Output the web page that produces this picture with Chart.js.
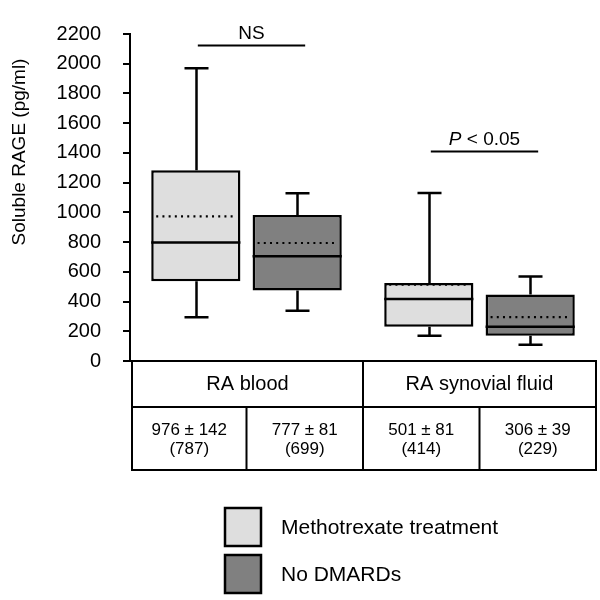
<!DOCTYPE html>
<html>
<head>
<meta charset="utf-8">
<title>Soluble RAGE</title>
<script src="https://cdn.jsdelivr.net/npm/chart.js@4.4.0/dist/chart.umd.min.js"></script>
<style>
  html, body { margin: 0; padding: 0; background: #fff; }
  #wrap { width: 600px; height: 600px; }
</style>
</head>
<body>
<div id="wrap"><canvas id="ragePlot" width="600" height="600"></canvas></div>
<script>
// groups on the x axis and the two series
const groups = ['RA blood', 'RA synovial fluid'];
const seriesNames = ['Methotrexate treatment', 'No DMARDs'];
const seriesColors = ['#dedede', '#808080'];

// box plot values (pg/ml)
const mtxMin = [295, 170];
const mtxQ1 = [537, 231];
const mtxMedian = [797, 417];
const mtxMean = [973, 513];
const mtxQ3 = [1283, 524];
const mtxMax = [1969, 1131];

const noMin = [338, 109];
const noQ1 = [474, 170];
const noMedian = [705, 231];
const noMean = [794, 295];
const noQ3 = [982, 447];
const noMax = [1128, 568];

// y axis
const yMin = 0;
const yMax = 2200;
const yStep = 200;
const yTitle = 'Soluble RAGE (pg/ml)';

// significance bars above each group
const sigLabels = ['NS', 'P < 0.05'];
const sigValues = [2128, 1410];

// table under the plot: mean ± SEM and (median)
const statMeans = ['976 ± 142', '777 ± 81', '501 ± 81', '306 ± 39'];
const statMedians = ['(787)', '(699)', '(414)', '(229)'];

const boxStats = [
    { min: mtxMin, q1: mtxQ1, median: mtxMedian, mean: mtxMean, q3: mtxQ3, max: mtxMax },
    { min: noMin, q1: noQ1, median: noMedian, mean: noMean, q3: noQ3, max: noMax }
];

const FONT = '"Liberation Sans", Arial, Helvetica, sans-serif';

// whiskers, medians, dotted means, significance bars, table and legend
const boxPlotExtras = {
    id: 'boxPlotExtras',
    afterDatasetsDraw(chart) {
        const ctx = chart.ctx;
        const y = chart.scales.y;
        const x = chart.scales.x;
        const area = chart.chartArea;

        ctx.save();
        ctx.strokeStyle = '#000';

        boxStats.forEach((st, di) => {
            const meta = chart.getDatasetMeta(di);
            meta.data.forEach((bar, i) => {
                const cx = Math.round(bar.x) + 0.5;
                const half = bar.width / 2;
                const capHalf = 12;

                ctx.lineWidth = 2.5;
                ctx.setLineDash([]);
                // upper whisker
                ctx.beginPath();
                ctx.moveTo(cx, y.getPixelForValue(st.q3[i]));
                ctx.lineTo(cx, y.getPixelForValue(st.max[i]));
                ctx.moveTo(cx - capHalf, y.getPixelForValue(st.max[i]));
                ctx.lineTo(cx + capHalf, y.getPixelForValue(st.max[i]));
                // lower whisker
                ctx.moveTo(cx, y.getPixelForValue(st.q1[i]));
                ctx.lineTo(cx, y.getPixelForValue(st.min[i]));
                ctx.moveTo(cx - capHalf, y.getPixelForValue(st.min[i]));
                ctx.lineTo(cx + capHalf, y.getPixelForValue(st.min[i]));
                ctx.stroke();

                // median
                ctx.beginPath();
                ctx.moveTo(bar.x - half, y.getPixelForValue(st.median[i]));
                ctx.lineTo(bar.x + half, y.getPixelForValue(st.median[i]));
                ctx.stroke();

                // mean, dotted
                ctx.lineWidth = 2.2;
                ctx.setLineDash([2, 4.2]);
                ctx.beginPath();
                ctx.moveTo(bar.x - half + 5, y.getPixelForValue(st.mean[i]));
                ctx.lineTo(bar.x + half - 4, y.getPixelForValue(st.mean[i]));
                ctx.stroke();
            });
        });
        ctx.setLineDash([]);

        // significance bars
        const m0 = chart.getDatasetMeta(0).data;
        const m1 = chart.getDatasetMeta(1).data;
        groups.forEach((g, i) => {
            const x1 = m0[i].x + 2;
            const x2 = m1[i].x + 8;
            const yy = Math.round(y.getPixelForValue(sigValues[i])) + 0.5;
            ctx.lineWidth = 2;
            ctx.beginPath();
            ctx.moveTo(x1, yy);
            ctx.lineTo(x2, yy);
            ctx.stroke();

            ctx.fillStyle = '#000';
            ctx.textBaseline = 'alphabetic';
            const label = sigLabels[i];
            const mid = (x1 + x2) / 2;
            if (label.startsWith('P')) {
                const rest = label.slice(1);
                ctx.font = 'italic 19px ' + FONT;
                const wP = ctx.measureText('P').width;
                ctx.font = '19px ' + FONT;
                const wR = ctx.measureText(rest).width;
                const sx = mid - (wP + wR) / 2;
                ctx.textAlign = 'left';
                ctx.font = 'italic 19px ' + FONT;
                ctx.fillText('P', sx, yy - 7);
                ctx.font = '19px ' + FONT;
                ctx.fillText(rest, sx + wP, yy - 7);
            } else {
                ctx.font = '19px ' + FONT;
                ctx.textAlign = 'center';
                ctx.fillText(label, mid, yy - 7);
            }
        });

        // y axis title
        ctx.save();
        ctx.translate(20, 152);
        ctx.rotate(-Math.PI / 2);
        ctx.font = '19px ' + FONT;
        ctx.textAlign = 'center';
        ctx.textBaseline = 'middle';
        ctx.fillText(yTitle, 0, 0);
        ctx.restore();

        // table under the x axis
        const tLeft = area.left + 2;
        const tRight = area.right;
        const tTop = area.bottom;
        const tMid = tTop + 46;
        const tBottom = tTop + 109;
        const split = (x.getPixelForValue(0) + x.getPixelForValue(1)) / 2;
        const colEdges = [tLeft, x.getPixelForValue(0), split, x.getPixelForValue(1), tRight];

        ctx.lineWidth = 2;
        ctx.beginPath();
        ctx.moveTo(tLeft, tTop);
        ctx.lineTo(tLeft, tBottom);
        ctx.lineTo(tRight, tBottom);
        ctx.lineTo(tRight, tTop);
        ctx.moveTo(tLeft, tMid);
        ctx.lineTo(tRight, tMid);
        ctx.moveTo(split, tTop);
        ctx.lineTo(split, tBottom);
        ctx.moveTo(colEdges[1], tMid);
        ctx.lineTo(colEdges[1], tBottom);
        ctx.moveTo(colEdges[3], tMid);
        ctx.lineTo(colEdges[3], tBottom);
        ctx.stroke();

        ctx.fillStyle = '#000';
        ctx.textAlign = 'center';
        ctx.textBaseline = 'middle';
        ctx.font = '20px ' + FONT;
        ctx.fillText(groups[0], (tLeft + split) / 2, tTop + 23);
        ctx.fillText(groups[1], (split + tRight) / 2, tTop + 23);

        ctx.font = '17px ' + FONT;
        for (let c = 0; c < 4; c++) {
            const cx = (colEdges[c] + colEdges[c + 1]) / 2;
            ctx.fillText(statMeans[c], cx, tTop + 69);
            ctx.fillText(statMedians[c], cx, tTop + 88);
        }

        // legend
        const lx = 225;
        const ly = [508, 555];
        seriesNames.forEach((name, i) => {
            ctx.fillStyle = seriesColors[i];
            ctx.fillRect(lx, ly[i], 36, 38);
            ctx.lineWidth = 2.5;
            ctx.strokeStyle = '#000';
            ctx.strokeRect(lx, ly[i], 36, 38);
            ctx.fillStyle = '#000';
            ctx.textAlign = 'left';
            ctx.textBaseline = 'middle';
            ctx.font = '21px ' + FONT;
            ctx.fillText(name, 281, ly[i] + 20);
        });

        ctx.restore();
    }
};

const ctx = document.getElementById('ragePlot').getContext('2d');
const chart = new Chart(ctx, {
    type: 'bar',
    data: {
        labels: groups,
        datasets: boxStats.map((st, i) => ({
            label: seriesNames[i],
            data: st.q1.map((v, j) => [v, st.q3[j]]),
            backgroundColor: seriesColors[i],
            borderColor: '#000',
            borderWidth: 2.5,
            borderSkipped: false,
            categoryPercentage: 0.87,
            barPercentage: 0.88
        }))
    },
    options: {
        responsive: false,
        animation: false,
        devicePixelRatio: 1,
        layout: { padding: { top: 25, right: 4, bottom: 239, left: 0 } },
        plugins: {
            legend: { display: false },
            tooltip: { enabled: false },
            title: { display: false }
        },
        scales: {
            x: {
                grid: { display: false },
                ticks: { display: false },
                border: { display: true, color: '#000', width: 2 },
                afterFit(scale) { scale.height = 0; }
            },
            y: {
                min: yMin,
                max: yMax,
                ticks: {
                    stepSize: yStep,
                    color: '#000',
                    padding: 22,
                    font: { family: FONT, size: 20 },
                    callback: (v) => String(v)
                },
                grid: {
                    drawOnChartArea: false,
                    drawTicks: true,
                    tickLength: 7,
                    color: '#000',
                    lineWidth: 2
                },
                border: { display: true, color: '#000', width: 2 },
                afterFit(scale) { scale.width = 130; }
            }
        }
    },
    plugins: [boxPlotExtras]
});
</script>
</body>
</html>
